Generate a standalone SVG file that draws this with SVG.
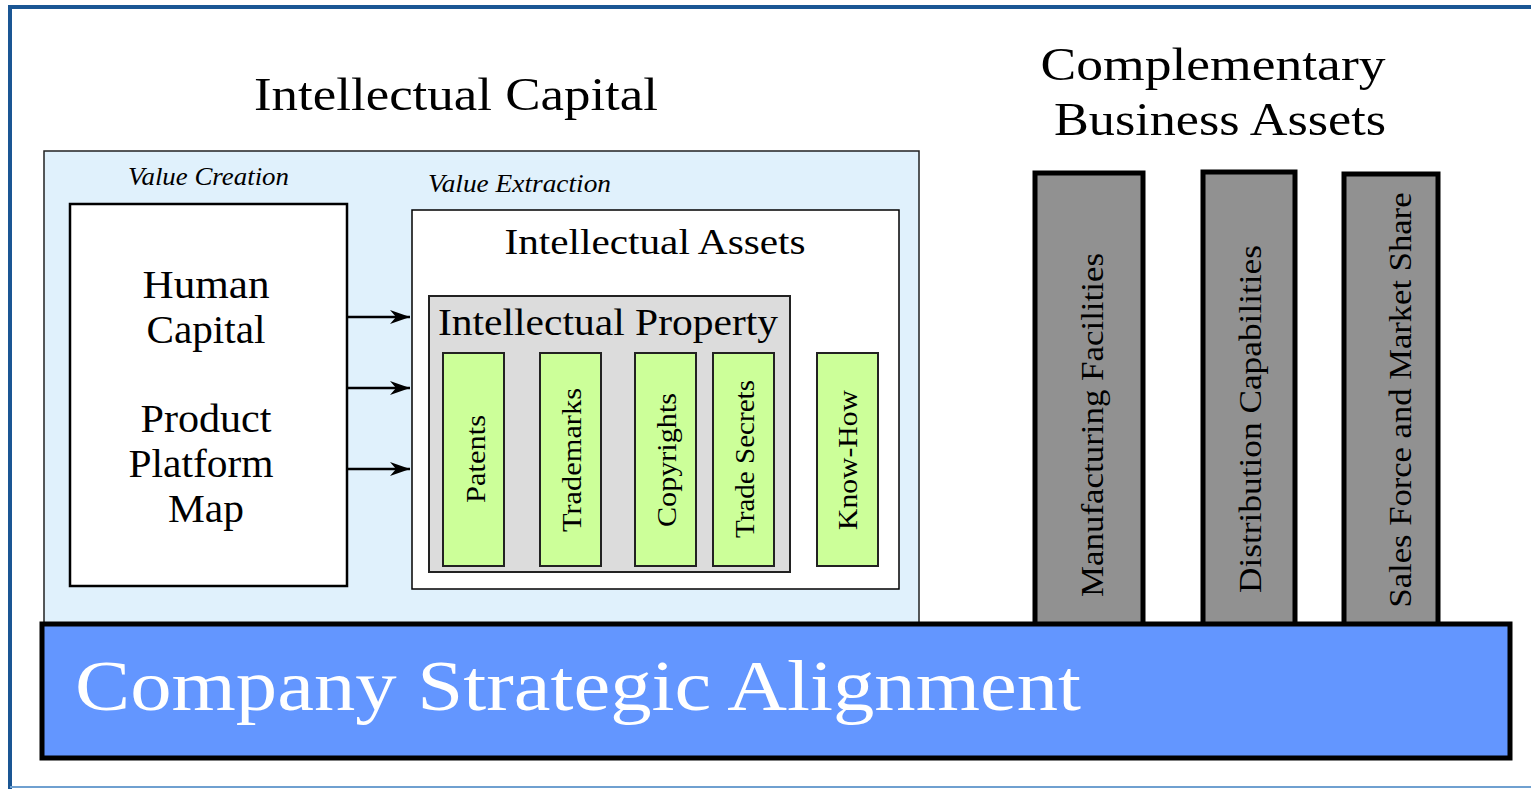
<svg xmlns="http://www.w3.org/2000/svg" width="1531" height="789" viewBox="0 0 1531 789">
<defs>
<marker id="arr" viewBox="0 0 20 14" refX="20" refY="7" markerWidth="20" markerHeight="14" markerUnits="userSpaceOnUse" orient="auto">
<path d="M0,0 L20,7 L0,14 L6,7 Z" fill="#000"/>
</marker>
</defs>
<style>
text{font-family:"Liberation Serif","DejaVu Serif",serif;fill:#000}
.title{font-size:46px}
.it{font-style:italic;font-size:26px}
.big{font-size:39px}
.green{fill:#ccff99;stroke:#222;stroke-width:2}
.gtxt{font-size:28px;text-anchor:middle}
.pillar{fill:#919191;stroke:#000;stroke-width:5}
.ptxt{font-size:31px;text-anchor:middle}
</style>
<rect x="0" y="0" width="1531" height="789" fill="#fff"/>
<path d="M10,789 L10,7 L1531,7" fill="none" stroke="#1a5694" stroke-width="4"/>
<line x1="10" y1="787" x2="1531" y2="787" stroke="#6fa0d0" stroke-width="2"/>

<g id="title-ic"><text class="title" x="456" y="110" text-anchor="middle" textLength="404" lengthAdjust="spacingAndGlyphs">Intellectual Capital</text></g>
<g id="title-cba">
<text class="title" x="1213" y="80" text-anchor="middle" textLength="345" lengthAdjust="spacingAndGlyphs">Complementary</text>
<text class="title" x="1220" y="135" text-anchor="middle" textLength="332" lengthAdjust="spacingAndGlyphs">Business Assets</text>
</g>

<g id="ic-panel">
<rect x="44" y="151" width="875" height="480" fill="#e0f1fc" stroke="#222" stroke-width="1.5"/>
<text class="it" x="128" y="185" textLength="161" lengthAdjust="spacingAndGlyphs">Value Creation</text>
<text class="it" x="428" y="192" textLength="183" lengthAdjust="spacingAndGlyphs">Value Extraction</text>
</g>

<g id="value-creation">
<rect x="70" y="204" width="277" height="382" fill="#fff" stroke="#000" stroke-width="2.5"/>
<text class="big" x="206" y="298" text-anchor="middle" textLength="127" lengthAdjust="spacingAndGlyphs">Human</text>
<text class="big" x="206" y="343" text-anchor="middle" textLength="119" lengthAdjust="spacingAndGlyphs">Capital</text>
<text class="big" x="206" y="432" text-anchor="middle" textLength="131" lengthAdjust="spacingAndGlyphs">Product</text>
<text class="big" x="201" y="477" text-anchor="middle" textLength="145" lengthAdjust="spacingAndGlyphs">Platform</text>
<text class="big" x="206" y="522" text-anchor="middle" textLength="76" lengthAdjust="spacingAndGlyphs">Map</text>
</g>

<g id="intellectual-assets">
<rect x="412" y="210" width="487" height="379" fill="#fff" stroke="#000" stroke-width="1.5"/>
<text x="655" y="254" text-anchor="middle" font-size="35" textLength="301" lengthAdjust="spacingAndGlyphs">Intellectual Assets</text>
</g>

<g id="intellectual-property">
<rect x="429" y="296" width="361" height="276" fill="#dcdcdc" stroke="#222" stroke-width="2"/>
<text x="438" y="335" font-size="37" textLength="340" lengthAdjust="spacingAndGlyphs">Intellectual Property</text>
</g>

<g id="patents"><rect class="green" x="443" y="353" width="61" height="213"/><text class="gtxt" transform="translate(485,459) rotate(-90)" textLength="88" lengthAdjust="spacingAndGlyphs">Patents</text></g>
<g id="trademarks"><rect class="green" x="540" y="353" width="61" height="213"/><text class="gtxt" transform="translate(581,460) rotate(-90)" textLength="144" lengthAdjust="spacingAndGlyphs">Trademarks</text></g>
<g id="copyrights"><rect class="green" x="635" y="353" width="61" height="213"/><text class="gtxt" transform="translate(676,460) rotate(-90)" textLength="134" lengthAdjust="spacingAndGlyphs">Copyrights</text></g>
<g id="trade-secrets"><rect class="green" x="713" y="353" width="61" height="213"/><text class="gtxt" transform="translate(754,459) rotate(-90)" textLength="158" lengthAdjust="spacingAndGlyphs">Trade Secrets</text></g>
<g id="know-how"><rect class="green" x="817" y="353" width="61" height="213"/><text class="gtxt" transform="translate(857,460) rotate(-90)" textLength="140" lengthAdjust="spacingAndGlyphs">Know-How</text></g>

<g id="manufacturing"><rect class="pillar" x="1035" y="173" width="108" height="452"/><text class="ptxt" transform="translate(1103,425) rotate(-90)" textLength="344" lengthAdjust="spacingAndGlyphs">Manufacturing Facilities</text></g>
<g id="distribution"><rect class="pillar" x="1203" y="172" width="92" height="453"/><text class="ptxt" transform="translate(1261,419) rotate(-90)" textLength="348" lengthAdjust="spacingAndGlyphs">Distribution Capabilities</text></g>
<g id="sales"><rect class="pillar" x="1344" y="174" width="94" height="451"/><text class="ptxt" transform="translate(1411,400) rotate(-90)" textLength="415" lengthAdjust="spacingAndGlyphs">Sales Force and Market Share</text></g>

<g id="strategic-alignment">
<rect x="42" y="624" width="1468" height="134" fill="#6396ff" stroke="#000" stroke-width="5"/>
<text x="75" y="710" font-size="72" style="fill:#fff" textLength="1006" lengthAdjust="spacingAndGlyphs">Company Strategic Alignment</text>
</g>

<g id="connectors" stroke="#000" stroke-width="2.5" fill="none">
<line x1="347" y1="317" x2="410" y2="317" marker-end="url(#arr)"/>
<line x1="347" y1="388" x2="410" y2="388" marker-end="url(#arr)"/>
<line x1="347" y1="469" x2="410" y2="469" marker-end="url(#arr)"/>
</g>
</svg>
